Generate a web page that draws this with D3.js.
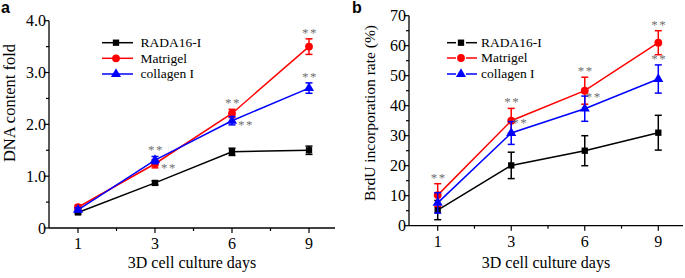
<!DOCTYPE html>
<html><head><meta charset="utf-8">
<script src="https://cdn.jsdelivr.net/npm/d3@7"></script>
<style>body{margin:0;background:#fff}svg{display:block}</style>
</head><body>
<svg id="c" width="685" height="278"></svg>
<script>
const days = ["1","3","6","9"];
const seriesNames = ["RADA16-I","Matrigel","collagen I"];
// Panel a: DNA content fold
const dnaRada = [0.30, 0.87, 1.47, 1.50];
const dnaRadaErr = [0.03, 0.04, 0.07, 0.08];
const dnaMatrigel = [0.40, 1.24, 2.21, 3.50];
const dnaMatrigelErr = [0.04, 0.08, 0.08, 0.15];
const dnaCollagen = [0.35, 1.31, 2.07, 2.70];
const dnaCollagenErr = [0.04, 0.07, 0.08, 0.10];
const dnaTicks = [0, 1, 2, 3, 4];
const dnaTickLabels = ["0", "1.0", "2.0", "3.0", "4.0"];
// Panel b: BrdU incorporation rate (%)
const brdRada = [5.2, 20.1, 25.0, 31.0];
const brdRadaErr = [3.2, 4.4, 5.0, 5.8];
const brdMatrigel = [10.2, 35.0, 45.0, 61.0];
const brdMatrigelErr = [3.8, 4.1, 4.5, 4.0];
const brdCollagen = [7.6, 30.9, 39.0, 48.9];
const brdCollagenErr = [3.4, 3.8, 4.2, 4.7];
const brdTicks = [0, 10, 20, 30, 40, 50, 60, 70];
// significance marks: [series index, day index]
const dnaSig = [[2,1],[1,1],[1,2],[2,2],[1,3],[2,3]];
const brdSig = [[1,0],[1,1],[2,1],[1,2],[2,2],[1,3],[2,3]];

const colors = ["#000000","#ff0000","#0000ff"];
const shapes = [d3.symbolSquare, d3.symbolCircle, d3.symbolTriangle];
const symSize = [40, 48, 44];
const svg = d3.select("#c");
const serif = "'Liberation Serif','Times New Roman',serif";

function panel(cfg){
  const g = svg.append("g");
  const x = d3.scalePoint().domain(days).range(cfg.xr);
  const y = d3.scaleLinear().domain(cfg.yd).range(cfg.yr);
  // axes lines
  g.append("line").attr("x1",cfg.ax0).attr("x2",cfg.ax1).attr("y1",y(0)).attr("y2",y(0)).attr("stroke","#000").attr("stroke-width",1.3);
  g.append("line").attr("x1",cfg.ax0).attr("x2",cfg.ax0).attr("y1",y(0)).attr("y2",y(cfg.yd[1])).attr("stroke","#000").attr("stroke-width",1.3);
  // x ticks
  const step = x.step();
  days.forEach((d,i)=>{
    g.append("line").attr("x1",x(d)).attr("x2",x(d)).attr("y1",y(0)).attr("y2",y(0)+5).attr("stroke","#000").attr("stroke-width",1.2);
    g.append("text").attr("x",x(d)).attr("y",y(0)+21).attr("text-anchor","middle")
      .style("font-family",serif).style("font-size","16px").text(d);
    if(i<days.length-1){
      const m = x(d)+step/2;
      g.append("line").attr("x1",m).attr("x2",m).attr("y1",y(0)).attr("y2",y(0)+3).attr("stroke","#000").attr("stroke-width",1.2);
    }
  });
  // y ticks
  cfg.ticks.forEach((t,i)=>{
    g.append("line").attr("x1",cfg.ax0-5).attr("x2",cfg.ax0).attr("y1",y(t)).attr("y2",y(t)).attr("stroke","#000").attr("stroke-width",1.2);
    g.append("text").attr("x",cfg.ax0-3).attr("y",y(t)).attr("dy","0.35em").attr("text-anchor","end")
      .style("font-family",serif).style("font-size","16px").text(cfg.labels[i]);
    if(i<cfg.ticks.length-1){
      const m=(t+cfg.ticks[i+1])/2;
      g.append("line").attr("x1",cfg.ax0-3).attr("x2",cfg.ax0).attr("y1",y(m)).attr("y2",y(m)).attr("stroke","#000").attr("stroke-width",1.2);
    }
  });
  // titles
  g.append("text").attr("x",(cfg.ax0+cfg.ax1)/2).attr("y",268).attr("text-anchor","middle")
    .style("font-family",serif).style("font-size","16px").text("3D cell culture days");
  g.append("text").attr("transform",`translate(${cfg.ytx},${cfg.yty}) rotate(-90)`).attr("text-anchor","middle").attr("dy","0.35em")
    .style("font-family",serif).style("font-size",cfg.ytfs).text(cfg.ytitle);
  g.append("text").attr("x",cfg.lx).attr("y",13).style("font-family","'Liberation Sans',Arial,sans-serif")
    .style("font-weight","bold").style("font-size","16px").text(cfg.letter);
  // series
  cfg.series.forEach((s,k)=>{
    const line = d3.line().x((v,i)=>x(days[i])).y(v=>y(v));
    g.append("path").attr("d",line(s.v)).attr("fill","none").attr("stroke",colors[k]).attr("stroke-width",1.5);
    s.v.forEach((v,i)=>{
      const cx=x(days[i]), t=y(v+s.e[i]), b=y(v-s.e[i]);
      g.append("line").attr("x1",cx).attr("x2",cx).attr("y1",t).attr("y2",b).attr("stroke",colors[k]).attr("stroke-width",1.5);
      [t,b].forEach(yy=>g.append("line").attr("x1",cx-3.5).attr("x2",cx+3.5).attr("y1",yy).attr("y2",yy).attr("stroke",colors[k]).attr("stroke-width",1.5));
    });
    g.selectAll(null).data(s.v).enter().append("path")
      .attr("d",d3.symbol().type(shapes[k]).size(symSize[k]))
      .attr("transform",(v,i)=>`translate(${x(days[i])},${y(v)})`).attr("fill",colors[k]);
  });
  // significance
  cfg.sig.forEach(([k,i],j)=>{
    const s=cfg.series[k]; const pl=cfg.sigPlace[j];
    const cx=x(days[i]);
    let tx,ty;
    if(pl==="above"){ tx=cx+1; ty=y(s.v[i]+s.e[i])-7; }
    else if(pl==="rightTop"){ tx=cx+9; ty=y(s.v[i]+s.e[i]); }
    else { tx=cx+14; ty=y(s.v[i])+3; }
    g.append("text").attr("x",tx).attr("y",ty+5).attr("text-anchor","middle")
      .style("font-family",serif).style("font-size","13px").style("letter-spacing","1.5px").attr("fill","#707070").text("**");
  });
  // legend
  seriesNames.forEach((n,k)=>{
    const ly=cfg.legY[k];
    if(cfg.legGap){
      g.append("line").attr("x1",cfg.legX0).attr("x2",cfg.legXm-5).attr("y1",ly).attr("y2",ly).attr("stroke",colors[k]).attr("stroke-width",1.5);
      g.append("line").attr("x1",cfg.legXm+5).attr("x2",cfg.legX1).attr("y1",ly).attr("y2",ly).attr("stroke",colors[k]).attr("stroke-width",1.5);
    } else {
      g.append("line").attr("x1",cfg.legX0).attr("x2",cfg.legX1).attr("y1",ly).attr("y2",ly).attr("stroke",colors[k]).attr("stroke-width",1.5);
    }
    g.append("path").attr("d",d3.symbol().type(shapes[k]).size(symSize[k])).attr("transform",`translate(${cfg.legXm},${ly})`).attr("fill",colors[k]);
    g.append("text").attr("x",cfg.legTx).attr("y",ly).attr("dy","0.33em").style("font-family",serif).style("font-size","13.5px").text(n);
  });
}

panel({
  xr:[78,309], yd:[0,4], yr:[228,20.7], ax0:49, ax1:335,
  ticks:dnaTicks, labels:dnaTickLabels,
  ytitle:"DNA content fold", ytx:9, yty:103, ytfs:"16.5px", letter:"a", lx:1,
  series:[{v:dnaRada,e:dnaRadaErr},{v:dnaMatrigel,e:dnaMatrigelErr},{v:dnaCollagen,e:dnaCollagenErr}],
  sig:dnaSig, sigPlace:["above","right","above","right","above","above"],
  legY:[42.7,58.3,74], legX0:102, legX1:133, legXm:116, legTx:140.5, legGap:false
});
panel({
  xr:[437.7,658.3], yd:[0,70], yr:[225.7,15.7], ax0:409, ax1:683,
  ticks:brdTicks, labels:brdTicks.map(String),
  ytitle:"BrdU incorporation rate (%)", ytx:370, yty:113, ytfs:"15.5px", letter:"b", lx:352,
  series:[{v:brdRada,e:brdRadaErr},{v:brdMatrigel,e:brdMatrigelErr},{v:brdCollagen,e:brdCollagenErr}],
  sig:brdSig, sigPlace:["above","above","rightTop","above","rightTop","above","above"],
  legY:[42.7,58,74], legX0:447, legX1:477, legXm:461, legTx:481, legGap:true
});
</script>
</body></html>
